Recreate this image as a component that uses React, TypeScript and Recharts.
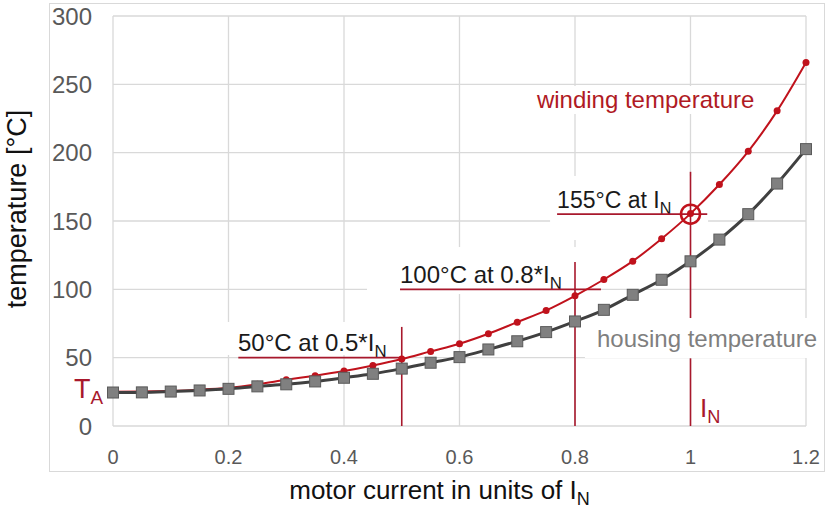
import React from 'react';
import { ComposedChart, Line, XAxis, YAxis, CartesianGrid, ReferenceLine, ReferenceDot } from 'recharts';

// motor current (units of I_N) and the two temperatures
const current = [0, 0.05, 0.1, 0.15, 0.2, 0.25, 0.3, 0.35, 0.4, 0.45, 0.5, 0.55, 0.6, 0.65, 0.7, 0.75, 0.8, 0.85, 0.9, 0.95, 1, 1.05, 1.1, 1.15, 1.2];
const windingTemp = [25, 25.2, 25.7, 26.6, 28, 30.5, 33.8, 36.8, 40.2, 44.3, 49, 54.6, 60.2, 67.5, 76, 84.6, 95.3, 107.2, 120.6, 137, 155.4, 176.7, 201, 230.6, 266];
const housingTemp = [24.5, 24.6, 25.2, 26, 27.2, 29, 30.5, 32.6, 35.3, 38.2, 42, 46.3, 50.4, 56, 62, 68.7, 76.5, 85, 96, 107, 120.5, 136.4, 155, 177.4, 202.6];

const xTicks = [0, 0.2, 0.4, 0.6, 0.8, 1, 1.2];
const yTicks = [0, 50, 100, 150, 200, 250, 300];

// red marker lines: [x1, y1, x2, y2] in data units
const markerLines = [
  [0.5, 0, 0.5, 72.5],
  [0.217, 50, 0.5, 50],
  [0.8, 0, 0.8, 120],
  [0.497, 100, 0.845, 100],
  [1, 79, 1, 186],
  [1, 0, 1, 49.5],
  [0.769, 155, 1.029, 155],
];

const data = current.map((x, i) => ({ x, winding: windingTemp[i], housing: housingTemp[i] }));

const FONT = '"Liberation Sans", Arial, Helvetica, sans-serif';
const RED = '#c0121c';
const DARK_RED = '#a8182c';

interface Note {
  x: number;
  y: number;
  text: string;
  sub?: string;
  color: string;
  size: number;
  box?: [number, number, number, number]; // white backing, px relative to text start
}

const notes: Note[] = [
  { x: 0.734, y: 232.7, text: 'winding temperature', color: '#b01a24', size: 24, box: [-7, -22, 230, 28] },
  { x: 0.769, y: 159.5, text: '155°C at I', sub: 'N', color: '#1a1a1a', size: 23, box: [-7, -32, 158, 64] },
  { x: 0.497, y: 104.6, text: '100°C at 0.8*I', sub: 'N', color: '#1a1a1a', size: 24, box: [-33, -36, 213, 47] },
  { x: 0.2165, y: 54.9, text: '50°C at 0.5*I', sub: 'N', color: '#1a1a1a', size: 24, box: [-18, -29, 175, 33] },
  { x: 0.838, y: 57.8, text: 'housing temperature', color: '#7f7f7f', size: 24, box: [-12, -29, 237, 40] },
  { x: -0.0675, y: 20.5, text: 'T', sub: 'A', color: DARK_RED, size: 27 },
  { x: 1.0165, y: 6.6, text: 'I', sub: 'N', color: DARK_RED, size: 26 },
];

const renderNote = (props: any, note: Note) => {
  const { cx, cy } = props;
  return (
    <g>
      {note.box && (
        <rect x={cx + note.box[0]} y={cy + note.box[1]} width={note.box[2]} height={note.box[3]} fill="#fff" />
      )}
      <text x={cx} y={cy} fill={note.color} fontSize={note.size} fontFamily={FONT}>
        {note.text}
        {note.sub && (
          <tspan dy={6} fontSize={note.size * 0.7}>{note.sub}</tspan>
        )}
      </text>
    </g>
  );
};

const Square = (props: any) => {
  const { cx, cy, index } = props;
  return <rect key={`sq-${index}`} x={cx - 5.5} y={cy - 5.5} width={11} height={11} fill="#808080" stroke="#5a5a5a" strokeWidth={1} />;
};

const XTitle = (props: any) => {
  const { viewBox } = props;
  const x = viewBox.x + viewBox.width / 2 - 20;
  const y = viewBox.y + 73;
  return (
    <text x={x} y={y} textAnchor="middle" fontSize={26} fontFamily={FONT} fill="#111">
      motor current in units of I<tspan dy={6} fontSize={18}>N</tspan>
    </text>
  );
};

const YTitle = () => (
  <text x={26} y={209} transform="rotate(-90, 26, 209)" textAnchor="middle" fontSize={27} fontFamily={FONT} fill="#111">
    temperature [°C]
  </text>
);

const MotorTemperatureChart: React.FC = () => {
  return (
    <div style={{ position: 'absolute', left: 0, top: 0, width: 828, height: 513, background: '#fff' }}>
      <div
        style={{
          position: 'absolute',
          left: 49,
          top: 3,
          width: 776,
          height: 469,
          border: '1.5px solid #d9d9d9',
          boxSizing: 'border-box',
        }}
      />
      <div style={{ position: 'absolute', left: 0, top: 0 }}>
        <ComposedChart width={828} height={513} data={data} margin={{ top: 16, right: 22, bottom: 27, left: 0 }}>
          <CartesianGrid stroke="#d9d9d9" strokeWidth={1.3} horizontalValues={yTicks} verticalValues={xTicks} />
          <XAxis
            type="number"
            dataKey="x"
            domain={[0, 1.2]}
            ticks={xTicks}
            axisLine={false}
            tickLine={false}
            tickSize={0}
            tickMargin={24}
            height={60}
            tick={{ fontSize: 20, fill: '#595959', fontFamily: FONT }}
            label={<XTitle />}
          />
          <YAxis
            type="number"
            domain={[0, 300]}
            ticks={yTicks}
            axisLine={false}
            tickLine={false}
            tickSize={0}
            tickMargin={21}
            width={113}
            tick={{ fontSize: 24, fill: '#595959', fontFamily: FONT }}
            label={<YTitle />}
          />
          {notes.map((n, i) => (
            <ReferenceDot
              key={`note-${i}`}
              x={n.x}
              y={n.y}
              ifOverflow="visible"
              zIndex={50}
              shape={(p: any) => renderNote(p, n)}
            />
          ))}
          {markerLines.map((s, i) => (
            <ReferenceLine
              key={`ml-${i}`}
              segment={[{ x: s[0], y: s[1] }, { x: s[2], y: s[3] }]}
              stroke={DARK_RED}
              strokeWidth={1.6}
              zIndex={100}
            />
          ))}
          <Line
            type="monotone"
            dataKey="winding"
            stroke={RED}
            strokeWidth={2}
            dot={{ r: 3.5, fill: RED, stroke: RED, strokeWidth: 0 }}
            activeDot={false}
            isAnimationActive={false}
            zIndex={400}
          />
          <Line
            type="monotone"
            dataKey="housing"
            stroke="#404040"
            strokeWidth={3}
            dot={<Square />}
            activeDot={false}
            isAnimationActive={false}
            zIndex={410}
          />
          <ReferenceDot x={1} y={155} r={9.5} fill="none" stroke={RED} strokeWidth={2.5} zIndex={600} />
        </ComposedChart>
      </div>
    </div>
  );
};

export default function App() {
  return <MotorTemperatureChart />;
}
